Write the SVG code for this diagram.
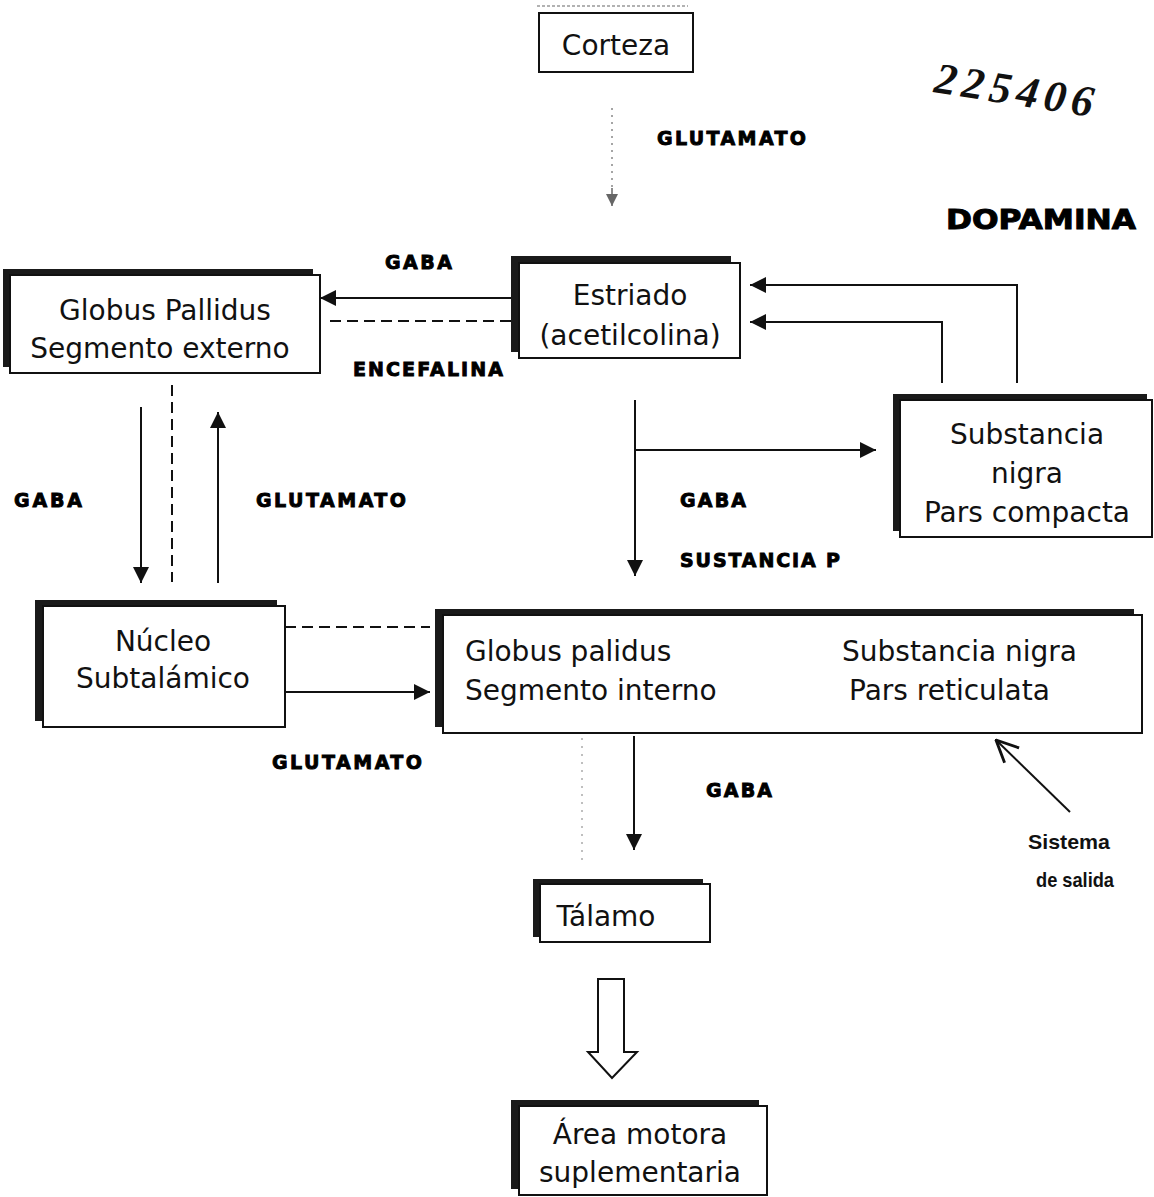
<svg xmlns="http://www.w3.org/2000/svg" width="1154" height="1197" viewBox="0 0 1154 1197">
<style>
.box{fill:#fff;stroke:#111;stroke-width:2}
.sh{fill:#1a1a1a}
.nt{font-family:"DejaVu Sans",Verdana,sans-serif;font-size:28px;fill:#111}
.lb{font-family:"DejaVu Sans","Liberation Sans",sans-serif;font-weight:bold;font-size:19px;fill:#000;stroke:#000;stroke-width:0.9}
.ss{font-family:"Liberation Sans",Arial,sans-serif;font-weight:bold;font-size:21px;fill:#111}
.ln{stroke:#111;stroke-width:2;fill:none}
.dash{stroke:#111;stroke-width:2;fill:none;stroke-dasharray:11 6}
.mid{text-anchor:middle}
</style>
<defs>
<marker id="ah" viewBox="0 0 10 10" refX="10" refY="5" markerWidth="18" markerHeight="16" markerUnits="userSpaceOnUse" orient="auto">
<path d="M0,0 L10,5 L0,10 z" fill="#111"/>
</marker>
<marker id="ahg" viewBox="0 0 10 10" refX="10" refY="5" markerWidth="14" markerHeight="12" markerUnits="userSpaceOnUse" orient="auto">
<path d="M0,0 L10,5 L0,10 z" fill="#666"/>
</marker>
<marker id="open" viewBox="0 0 20 20" refX="19" refY="10" markerWidth="26" markerHeight="26" markerUnits="userSpaceOnUse" orient="auto">
<path d="M2,2 L19,10 L2,18" fill="none" stroke="#111" stroke-width="2.2"/>
</marker>
</defs>

<g id="stamp">
<text x="933" y="92" transform="rotate(9 933 92)" font-family="Liberation Serif,serif" font-weight="bold" font-style="italic" font-size="44" fill="#111" textLength="160" lengthAdjust="spacing">225406</text>
</g>
<g id="dopamina">
<text x="1041" y="229" class="mid" font-family="DejaVu Sans,Liberation Sans,sans-serif" font-weight="bold" font-size="27" fill="#000" stroke="#000" stroke-width="1" textLength="190" lengthAdjust="spacingAndGlyphs">DOPAMINA</text>
</g>

<g id="corteza">
<line x1="537" y1="6" x2="688" y2="6" stroke="#999" stroke-width="1.5" stroke-dasharray="3 2"/>
<rect class="box" x="539" y="13" width="154" height="59" stroke-width="1.5"/>
<text class="nt mid" x="616" y="55">Corteza</text>
</g>

<g id="estriado">
<rect class="sh" x="511" y="256" width="220" height="96"/>
<rect class="box" x="519" y="263" width="221" height="95"/>
<text class="nt mid" x="630" y="305">Estriado</text>
<text class="nt mid" x="630" y="345">(acetilcolina)</text>
</g>

<g id="gp-externo">
<rect class="sh" x="3" y="269" width="310" height="98"/>
<rect class="box" x="10" y="275" width="310" height="98"/>
<text class="nt mid" x="165" y="320">Globus Pallidus</text>
<text class="nt mid" x="160" y="358">Segmento externo</text>
</g>

<g id="sn-compacta">
<rect class="sh" x="893" y="394" width="254" height="137"/>
<rect class="box" x="900" y="400" width="252" height="137"/>
<text class="nt mid" x="1027" y="444">Substancia</text>
<text class="nt mid" x="1027" y="483">nigra</text>
<text class="nt mid" x="1027" y="522">Pars compacta</text>
</g>

<g id="nucleo">
<rect class="sh" x="35" y="600" width="242" height="121"/>
<rect class="box" x="43" y="606" width="242" height="121"/>
<text class="nt mid" x="163" y="651">Núcleo</text>
<text class="nt mid" x="163" y="688">Subtalámico</text>
</g>

<g id="gp-interno-snr">
<rect class="sh" x="435" y="609" width="699" height="118"/>
<rect class="box" x="443" y="615" width="699" height="118"/>
<text class="nt" x="465" y="661">Globus palidus</text>
<text class="nt" x="465" y="700">Segmento interno</text>
<text class="nt" x="842" y="661">Substancia nigra</text>
<text class="nt" x="849" y="700">Pars reticulata</text>
</g>

<g id="talamo">
<rect class="sh" x="533" y="879" width="170" height="58"/>
<rect class="box" x="540" y="884" width="170" height="58"/>
<text class="nt mid" x="606" y="926">Tálamo</text>
</g>

<g id="area-motora">
<rect class="sh" x="511" y="1100" width="248" height="89"/>
<rect class="box" x="519" y="1106" width="248" height="89"/>
<text class="nt mid" x="640" y="1144">Área motora</text>
<text class="nt mid" x="640" y="1182">suplementaria</text>
</g>

<g id="connectors">
<line x1="612" y1="108" x2="612" y2="188" stroke="#888" stroke-width="1.5" stroke-dasharray="2 5"/>
<line x1="612" y1="188" x2="612" y2="206" stroke="#666" stroke-width="1.5" marker-end="url(#ahg)"/>

<line class="ln" x1="511" y1="298" x2="320" y2="298" marker-end="url(#ah)"/>
<line class="dash" x1="511" y1="321" x2="330" y2="321"/>

<polyline class="ln" points="1017,383 1017,285 750,285" marker-end="url(#ah)"/>
<polyline class="ln" points="942,383 942,322 750,322" marker-end="url(#ah)"/>

<line class="ln" x1="635" y1="400" x2="635" y2="576" marker-end="url(#ah)"/>
<line class="ln" x1="635" y1="450" x2="876" y2="450" marker-end="url(#ah)"/>

<line class="ln" x1="141" y1="407" x2="141" y2="583" marker-end="url(#ah)"/>
<line class="dash" x1="172" y1="385" x2="172" y2="582"/>
<line class="ln" x1="218" y1="583" x2="218" y2="412" marker-end="url(#ah)"/>

<line class="dash" x1="285" y1="627" x2="430" y2="627"/>
<line class="ln" x1="285" y1="692" x2="430" y2="692" marker-end="url(#ah)"/>

<line class="ln" x1="634" y1="736" x2="634" y2="850" marker-end="url(#ah)"/>
<line x1="582" y1="738" x2="582" y2="862" stroke="#aaa" stroke-width="1.5" stroke-dasharray="2 6"/>

<line class="ln" x1="1070" y1="812" x2="996" y2="740" stroke-width="2.5" marker-end="url(#open)"/>

<path d="M598,979 L624,979 L624,1052 L637,1052 L612,1078 L588,1052 L598,1052 Z" fill="#fff" stroke="#111" stroke-width="2"/>
</g>

<g id="labels">
<text class="lb" x="657" y="145" textLength="149" lengthAdjust="spacing">GLUTAMATO</text>
<text class="lb" x="385" y="269" textLength="67" lengthAdjust="spacing">GABA</text>
<text class="lb" x="353" y="376" textLength="150" lengthAdjust="spacing">ENCEFALINA</text>
<text class="lb" x="14" y="507" textLength="68" lengthAdjust="spacing">GABA</text>
<text class="lb" x="256" y="507" textLength="150" lengthAdjust="spacing">GLUTAMATO</text>
<text class="lb" x="680" y="507" textLength="66" lengthAdjust="spacing">GABA</text>
<text class="lb" x="680" y="567" textLength="160" lengthAdjust="spacing">SUSTANCIA P</text>
<text class="lb" x="272" y="769" textLength="150" lengthAdjust="spacing">GLUTAMATO</text>
<text class="lb" x="706" y="797" textLength="66" lengthAdjust="spacing">GABA</text>
<text class="ss mid" x="1069" y="849" textLength="82" lengthAdjust="spacingAndGlyphs">Sistema</text>
<text class="ss mid" x="1075" y="887" textLength="78" lengthAdjust="spacingAndGlyphs">de salida</text>
</g>
</svg>
